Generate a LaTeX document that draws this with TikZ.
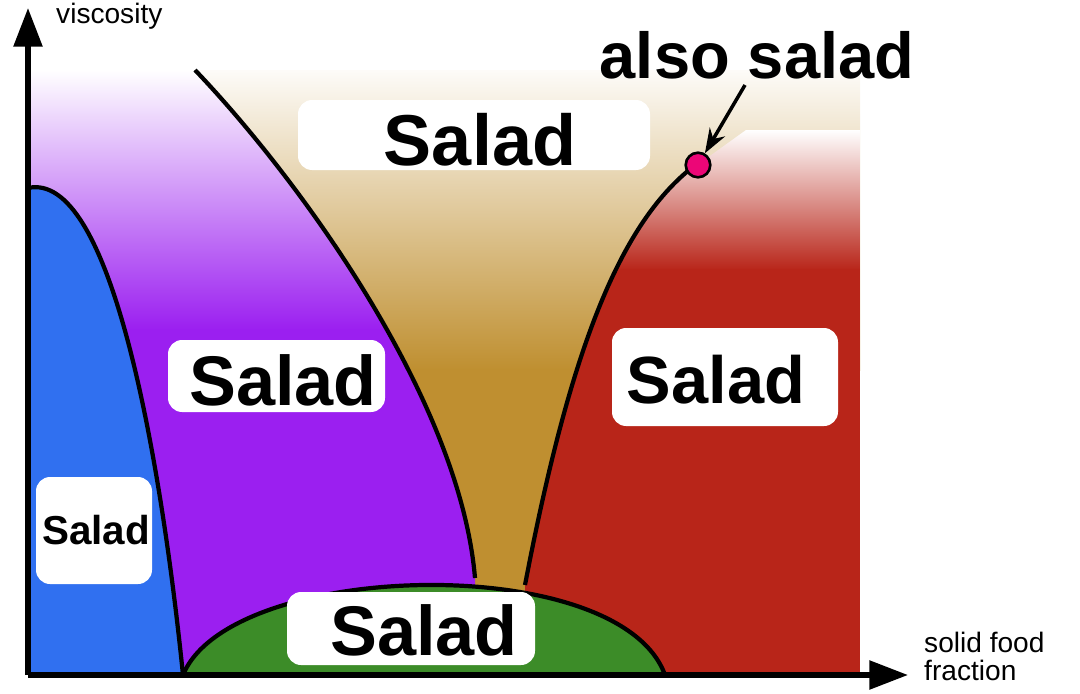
\documentclass[tikz,border=0pt]{standalone}
\usepackage{fontspec}
\setmainfont{Liberation Sans}
\usetikzlibrary{arrows.meta}
\definecolor{tan}{HTML}{BF8F30}
\definecolor{redc}{HTML}{B82519}
\definecolor{purp}{HTML}{9B1FF0}
\definecolor{bluec}{HTML}{3070F0}
\definecolor{greenc}{HTML}{3C8C28}
\tikzset{lab/.style={fill=white,rounded corners=8pt,font=\bfseries,inner sep=0pt},
 bnd/.style={line width=2.4pt,black}}
\begin{document}
\begin{tikzpicture}[x=0.02cm,y=-0.02cm]
\useasboundingbox (0,0) rectangle (1080,694);
% tan
\begin{scope}
\clip (195,70) rectangle (860,675);
\shade[top color=white,bottom color=tan] (195,60) rectangle (860,370);
\fill[tan] (195,369) rectangle (860,675);
\end{scope}
% red
\begin{scope}
\clip (525,585) .. controls (570,350) and (620,220) .. (700,163) -- (760,120) -- (860,120) -- (860,675) -- (525,675) -- cycle;
\shade[top color=white,bottom color=redc] (500,130) rectangle (860,270);
\fill[redc] (500,269) rectangle (860,675);
\end{scope}
% purple
\begin{scope}
\clip (28,70) -- (195,70) .. controls (300,180) and (460,400) .. (475,578) -- (475,675) -- (28,675) -- cycle;
\shade[top color=white,bottom color=purp] (28,70) rectangle (480,330);
\fill[purp] (28,329) rectangle (480,675);
\end{scope}
% blue
\fill[bluec] (28,675) -- (28,188) .. controls (110,170) and (160,450) .. (183,675) -- cycle;
\draw[bnd] (28,188) .. controls (110,170) and (160,450) .. (183,675);
\draw[bnd] (195,70) .. controls (300,180) and (460,400) .. (475,578);
\draw[bnd] (525,585) .. controls (570,350) and (620,220) .. (698,163);
% green
\filldraw[bnd,fill=greenc] (183,675) .. controls (230,560) and (620,550) .. (665,675) -- cycle;
% axes
\coordinate (o) at (28,675);
\coordinate (yt) at (28,8);
\coordinate (xt) at (908,675);
\draw[line width=3pt,-{Triangle[length=22pt,width=16pt]}] (o) -- (yt);
\draw[line width=3pt,-{Triangle[length=22pt,width=16pt]}] (o) -- (xt);
\node[anchor=west,font=\fontsize{16}{18}\selectfont] (yl) at (50,16) {viscosity};
\node[anchor=west,align=left,font=\fontsize{16}{16}\selectfont] (xl) at (918,656) {solid food\\fraction};
% labels
\node[lab,minimum width=352\pgflinewidth] (s1) at (0,0) {};
\fill[white,rounded corners=8pt] (298,100) rectangle (650,170);
\node[font=\bfseries\fontsize{41}{41}\selectfont] (t1) at (480,140) {Salad};
\fill[white,rounded corners=8pt] (168,340) rectangle (385,412);
\node[font=\bfseries\fontsize{40}{40}\selectfont] (t2) at (283,380) {Salad};
\fill[white,rounded corners=8pt] (612,328) rectangle (838,426);
\node[font=\bfseries\fontsize{38}{38}\selectfont] (t3) at (716,380) {Salad};
\fill[white,rounded corners=8pt] (36,477) rectangle (152,584);
\node[font=\bfseries\fontsize{23}{23}\selectfont] (t4) at (96,530) {Salad};
\fill[white,rounded corners=8pt] (287,592) rectangle (535,665);
\node[font=\bfseries\fontsize{40}{40}\selectfont] (t5) at (424,630) {Salad};
\node[font=\bfseries\fontsize{37}{37}\selectfont] (al) at (757,55) {also salad};
\node[circle,draw=black,line width=1.5pt,fill=magenta!80!red,minimum size=14pt,inner sep=0pt] (dot) at (698,165) {};
\draw[line width=2pt,-{Stealth[length=14pt,width=10pt]}] (745,85) -- (dot);
\end{tikzpicture}
\end{document}
